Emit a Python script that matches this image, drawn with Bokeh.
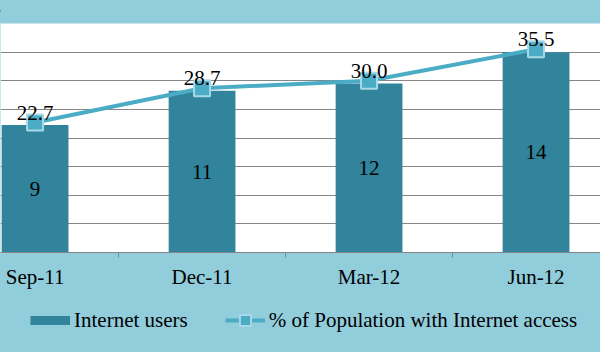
from bokeh.plotting import figure
from bokeh.models import (Range1d, FixedTicker, Legend, LegendItem,
                          ColumnDataSource, Div)
from bokeh.layouts import column
from bokeh.core.properties import value
from bokeh.embed import file_html
from bokeh.resources import INLINE

# ---- data ----
categories = ["Sep-11", "Dec-11", "Mar-12", "Jun-12"]
internet_users = [8.9, 11.3, 11.8, 14.0]
pct_population = [22.7, 28.7, 30.0, 35.5]
users_ticks = [0, 2, 4, 6, 8, 10, 12, 14, 16]
series_names = ["Internet users", "% of Population with Internet access"]

BG = "#92CDDC"
BAR = "#31849B"
LINE = "#4BACC6"
MARK_EDGE = "#A9D9E6"
GRID = "#868686"
RULE = "#7F7F7F"
FONT = "Liberation Serif"
FS = "21px"

xs = list(range(len(categories)))
src = ColumnDataSource(dict(
    x=xs,
    users=internet_users,
    users_mid=[v / 2 for v in internet_users],
    users_lbl=[f"{round(v)}" for v in internet_users],
    pct=pct_population,
    pct_lbl=[f"{v:.1f}" for v in pct_population],
))

# ---------------- main chart ----------------
p = figure(width=600, height=293, output_backend="svg", toolbar_location=None,
           x_range=Range1d(-0.207, 3.386), y_range=Range1d(0, 16),
           min_border_top=21, min_border_left=0, min_border_right=0,
           min_border_bottom=43)
p.extra_y_ranges = {"pct": Range1d(0, 40)}
p.background_fill_color = "white"
p.border_fill_color = BG
p.outline_line_color = None

p.yaxis.visible = False
p.xgrid.visible = False
p.ygrid.ticker = FixedTicker(ticks=users_ticks)
p.ygrid.grid_line_color = GRID
p.ygrid.grid_line_width = 1

ax = p.xaxis[0]
ax.ticker = FixedTicker(ticks=xs, minor_ticks=[i + 0.5 for i in xs[:-1]])
ax.major_label_overrides = {i: c for i, c in zip(xs, categories)}
ax.major_tick_line_color = None
ax.major_tick_in = 0
ax.major_tick_out = 0
ax.minor_tick_in = 0
ax.minor_tick_out = 5
ax.minor_tick_line_color = GRID
ax.axis_line_color = GRID
ax.major_label_text_font = FONT
ax.major_label_text_font_size = FS
ax.major_label_text_color = "black"
ax.major_label_standoff = 7

p.vbar(x="x", top="users", width=0.4, source=src,
       fill_color=BAR, line_color=None)
p.line(x="x", y="pct", source=src, y_range_name="pct",
       line_color=LINE, line_width=4)
p.scatter(x="x", y="pct", source=src, y_range_name="pct",
          marker="square", size=16, fill_color=LINE,
          line_color=MARK_EDGE, line_width=2)

p.text(x="x", y="users_mid", text="users_lbl", source=src,
       text_align="center", text_baseline="middle",
       text_font=value(FONT), text_font_size=FS, text_color="black")
p.text(x="x", y="pct", text="pct_lbl", source=src, y_range_name="pct",
       text_align="center", text_baseline="alphabetic", y_offset=-10,
       text_font=value(FONT), text_font_size=FS, text_color="black")

# ---------------- legend strip ----------------
# the series are drawn here too, outside the visible range, as legend keys
lg = figure(width=600, height=52, output_backend="svg", toolbar_location=None,
            x_range=Range1d(0, 1), y_range=Range1d(-2, -1),
            min_border=0, x_axis_location=None, y_axis_location=None)
lg.background_fill_color = BG
lg.border_fill_color = BG
lg.outline_line_color = None
lg.grid.visible = False

bar_key = lg.line(x="x", y="users", source=src, line_width=9, line_color=BAR)
line_key = lg.line(x="x", y="pct", source=src, line_width=4, line_color=LINE)
mark_key = lg.scatter(x="x", y="pct", source=src, marker="square",
                      fill_color=LINE, line_color=MARK_EDGE, line_width=2)

legend = Legend(items=[
    LegendItem(label=series_names[0], renderers=[bar_key]),
    LegendItem(label=series_names[1], renderers=[line_key, mark_key]),
], orientation="horizontal", location=(30, 13),
    glyph_width=40, glyph_height=28, label_standoff=4, spacing=37,
    padding=5, margin=0, border_line_color=None, background_fill_alpha=0,
    label_text_font=FONT, label_text_font_size=FS,
    label_text_color="black")
lg.add_layout(legend, "center")

top_rule = Div(width=600, height=2, margin=(0, 0, 0, 0),
               text='<div style="width:600px;height:2px;background:%s"></div>' % RULE)
bottom_rule = Div(width=600, height=5, margin=(0, 0, 0, 0),
                  text='<div style="width:600px;height:5px;background:%s"></div>' % RULE)
layout = column(top_rule, p, lg, bottom_rule, spacing=0,
                styles={"background-color": BG})

open("out.html", "w").write(file_html(layout, INLINE))
